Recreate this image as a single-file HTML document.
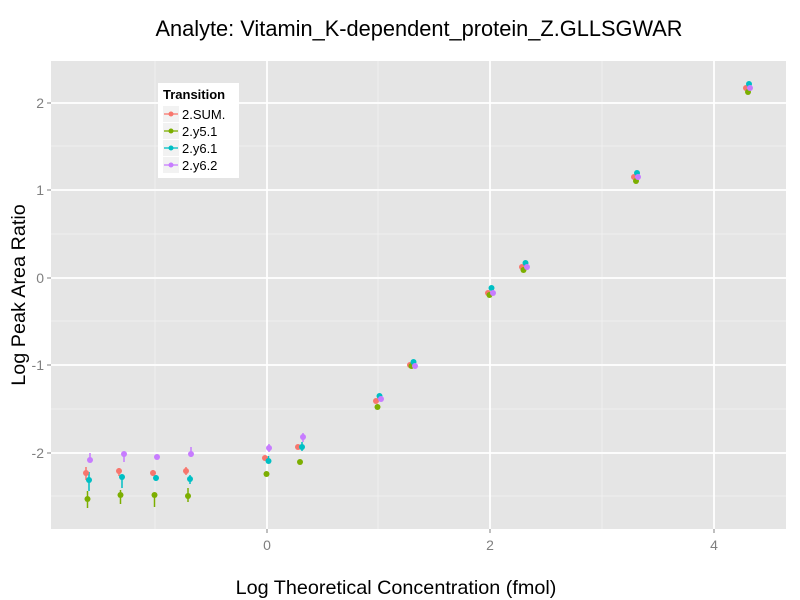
<!DOCTYPE html>
<html><head><meta charset="utf-8"><style>body{margin:0;background:#fff}svg{display:block}</style></head><body>
<svg width="800" height="600" xmlns="http://www.w3.org/2000/svg" font-family="Liberation Sans, sans-serif">
<rect width="800" height="600" fill="#fff"/>
<text x="419" y="36" font-size="21.8" text-anchor="middle" fill="#000">Analyte: Vitamin_K-dependent_protein_Z.GLLSGWAR</text>
<rect x="51" y="61" width="735" height="468" fill="#e5e5e5"/>
<g stroke="#f2f2f2" stroke-width="0.8">
<line x1="155" y1="61" x2="155" y2="529"/><line x1="378" y1="61" x2="378" y2="529"/><line x1="602" y1="61" x2="602" y2="529"/>
<line x1="51" y1="146" x2="786" y2="146"/><line x1="51" y1="234" x2="786" y2="234"/><line x1="51" y1="321" x2="786" y2="321"/><line x1="51" y1="409" x2="786" y2="409"/><line x1="51" y1="496" x2="786" y2="496"/>
</g>
<g stroke="#fff" stroke-width="1.8">
<line x1="267" y1="61" x2="267" y2="529"/><line x1="490" y1="61" x2="490" y2="529"/><line x1="714" y1="61" x2="714" y2="529"/>
<line x1="51" y1="103" x2="786" y2="103"/><line x1="51" y1="190" x2="786" y2="190"/><line x1="51" y1="278" x2="786" y2="278"/><line x1="51" y1="365" x2="786" y2="365"/><line x1="51" y1="453" x2="786" y2="453"/>
</g>
<g stroke="#7f7f7f" stroke-width="1">
<line x1="47" y1="103" x2="51" y2="103"/><line x1="47" y1="190" x2="51" y2="190"/><line x1="47" y1="278" x2="51" y2="278"/><line x1="47" y1="365" x2="51" y2="365"/><line x1="47" y1="453" x2="51" y2="453"/>
<line x1="267" y1="529" x2="267" y2="533"/><line x1="490" y1="529" x2="490" y2="533"/><line x1="714" y1="529" x2="714" y2="533"/>
</g>
<g font-size="14" fill="#7f7f7f" text-anchor="end">
<text x="44" y="108">2</text><text x="44" y="195">1</text><text x="44" y="283">0</text><text x="44" y="370">-1</text><text x="44" y="458">-2</text>
</g>
<g font-size="14" fill="#7f7f7f" text-anchor="middle">
<text x="267" y="550">0</text><text x="490" y="550">2</text><text x="714" y="550">4</text>
</g>
<text x="396" y="594" font-size="19.8" text-anchor="middle">Log Theoretical Concentration (fmol)</text>
<text transform="translate(25,295) rotate(-90)" font-size="19.8" text-anchor="middle">Log Peak Area Ratio</text>
<g stroke-width="1.5">
<g stroke="#f8766d"><line x1="86" y1="467" x2="86" y2="480"/><line x1="119" y1="468" x2="119" y2="476"/><line x1="153" y1="470" x2="153" y2="476"/><line x1="186" y1="467" x2="186" y2="475"/></g>
<g stroke="#7cae00"><line x1="87.5" y1="491" x2="87.5" y2="508"/><line x1="120.5" y1="490" x2="120.5" y2="504"/><line x1="154.5" y1="493" x2="154.5" y2="507"/><line x1="188" y1="488" x2="188" y2="502"/></g>
<g stroke="#00bfc4"><line x1="89" y1="472" x2="89" y2="491"/><line x1="122" y1="475" x2="122" y2="488"/><line x1="156" y1="475" x2="156" y2="481"/><line x1="190" y1="475" x2="190" y2="484"/><line x1="268.5" y1="456" x2="268.5" y2="463"/><line x1="302" y1="442" x2="302" y2="451"/></g>
<g stroke="#c77cff"><line x1="90" y1="453" x2="90" y2="462"/><line x1="124" y1="453" x2="124" y2="462"/><line x1="191" y1="447" x2="191" y2="457"/><line x1="303" y1="433" x2="303" y2="442"/><line x1="269" y1="444" x2="269" y2="452"/></g>
</g>
<g fill="#f8766d">
<circle cx="86" cy="473" r="3"/><circle cx="119" cy="471" r="3"/><circle cx="153" cy="473" r="3"/><circle cx="186" cy="471" r="3"/><circle cx="265" cy="458" r="3"/><circle cx="298" cy="447" r="3"/><circle cx="376" cy="401" r="3"/><circle cx="410" cy="365" r="3"/><circle cx="488" cy="293" r="3"/><circle cx="522" cy="267" r="3"/><circle cx="634" cy="177" r="3"/><circle cx="746" cy="88" r="3"/>
</g>
<g fill="#7cae00">
<circle cx="87.5" cy="499" r="3"/><circle cx="120.5" cy="495" r="3"/><circle cx="154.5" cy="495" r="3"/><circle cx="188" cy="496" r="3"/><circle cx="266.5" cy="474" r="3"/><circle cx="300" cy="462" r="3"/><circle cx="377.5" cy="407" r="3"/><circle cx="411.5" cy="366" r="3"/><circle cx="489.5" cy="295" r="3"/><circle cx="523.5" cy="270" r="3"/><circle cx="636" cy="181" r="3"/><circle cx="748" cy="92" r="3"/>
</g>
<g fill="#00bfc4">
<circle cx="89" cy="480" r="3"/><circle cx="122" cy="477" r="3"/><circle cx="156" cy="478" r="3"/><circle cx="190" cy="479" r="3"/><circle cx="268.5" cy="461" r="3"/><circle cx="302" cy="447" r="3"/><circle cx="379.5" cy="396" r="3"/><circle cx="413.5" cy="362" r="3"/><circle cx="491.5" cy="288" r="3"/><circle cx="525.5" cy="263" r="3"/><circle cx="637" cy="173" r="3"/><circle cx="749" cy="84" r="3"/>
</g>
<g fill="#c77cff">
<circle cx="90" cy="460" r="3"/><circle cx="124" cy="454" r="3"/><circle cx="157" cy="457" r="3"/><circle cx="191" cy="454" r="3"/><circle cx="269" cy="448" r="3"/><circle cx="303" cy="437" r="3"/><circle cx="381" cy="399" r="3"/><circle cx="415" cy="366" r="3"/><circle cx="493" cy="293" r="3"/><circle cx="527" cy="267" r="3"/><circle cx="638" cy="177" r="3"/><circle cx="750" cy="88" r="3"/>
</g>
<rect x="158" y="83" width="81" height="95" fill="#fff"/>
<text x="163" y="99" font-size="13" font-weight="bold">Transition</text>
<g font-size="13">
<rect x="163" y="106" width="16" height="16" fill="#f2f2f2"/><line x1="164" y1="114" x2="178" y2="114" stroke="#f8766d" stroke-width="1.3"/><circle cx="171" cy="114" r="2.5" fill="#f8766d"/><text x="182" y="119">2.SUM.</text>
<rect x="163" y="123" width="16" height="16" fill="#f2f2f2"/><line x1="164" y1="131" x2="178" y2="131" stroke="#7cae00" stroke-width="1.3"/><circle cx="171" cy="131" r="2.5" fill="#7cae00"/><text x="182" y="136">2.y5.1</text>
<rect x="163" y="140" width="16" height="16" fill="#f2f2f2"/><line x1="164" y1="148" x2="178" y2="148" stroke="#00bfc4" stroke-width="1.3"/><circle cx="171" cy="148" r="2.5" fill="#00bfc4"/><text x="182" y="153">2.y6.1</text>
<rect x="163" y="157" width="16" height="16" fill="#f2f2f2"/><line x1="164" y1="165" x2="178" y2="165" stroke="#c77cff" stroke-width="1.3"/><circle cx="171" cy="165" r="2.5" fill="#c77cff"/><text x="182" y="170">2.y6.2</text>
</g>
</svg>
</body></html>
